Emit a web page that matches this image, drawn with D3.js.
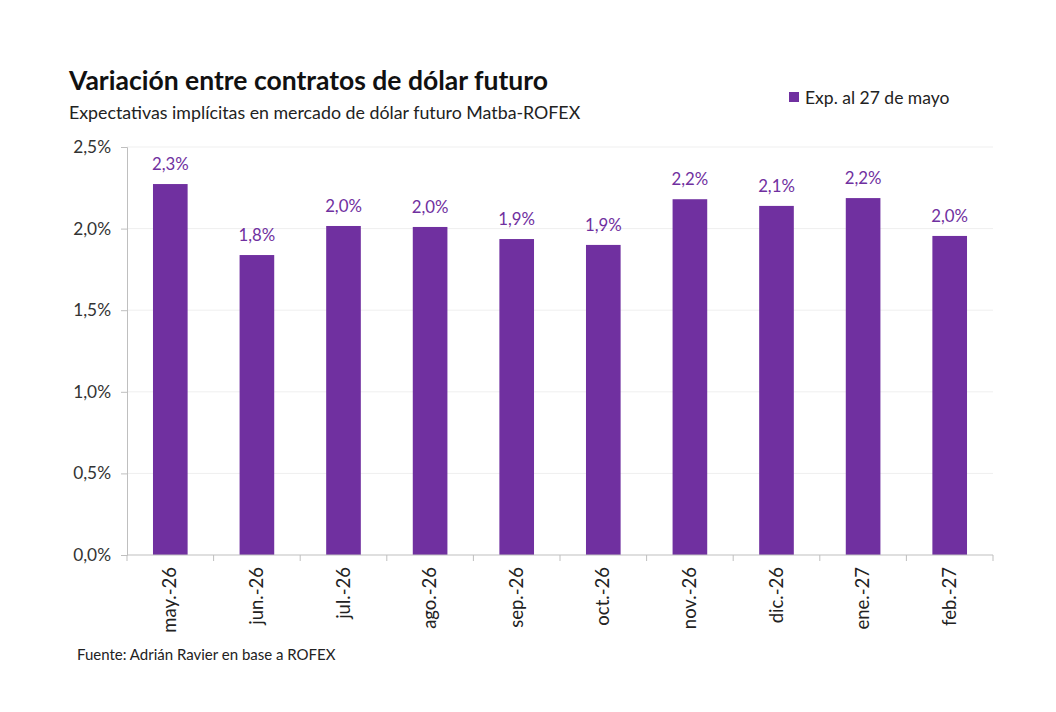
<!DOCTYPE html>
<html><head><meta charset="utf-8">
<script src="https://cdn.jsdelivr.net/npm/d3@7"></script>
<style>body{margin:0;background:#fff}svg{display:block}</style>
</head><body>
<script>
const categories = ["may.-26","jun.-26","jul.-26","ago.-26","sep.-26","oct.-26","nov.-26","dic.-26","ene.-27","feb.-27"];
const values = [2.273, 1.838, 2.016, 2.01, 1.936, 1.90, 2.18, 2.139, 2.187, 1.955];
const yTicks = [0, 0.5, 1.0, 1.5, 2.0, 2.5];
const seriesName = "Exp. al 27 de mayo";

const W = 1056, H = 712;
const m = {left:127, right:63, top:147, bottom:157};
const font = "Lato, 'Open Sans', sans-serif";
const purple = "#7030a0";

const svg = d3.select("body").append("svg").attr("width", W).attr("height", H);

const x = d3.scaleBand().domain(categories).range([m.left, W - m.right]).paddingInner(0.6).paddingOuter(0.3);
const y = d3.scaleLinear().domain([0, 2.5]).range([H - m.bottom, m.top]);
const fmt = v => d3.format(".1f")(v).replace(".", ",") + "%";

// gridlines
svg.append("g").selectAll("line").data(yTicks.filter(d => d > 0)).join("line")
  .attr("x1", m.left).attr("x2", W - m.right)
  .attr("y1", d => y(d)).attr("y2", d => y(d))
  .attr("stroke", "#efefef").attr("stroke-width", 1);

// y axis
const ya = svg.append("g").attr("transform", `translate(${m.left},0)`)
  .call(d3.axisLeft(y).tickValues(yTicks).tickFormat(fmt).tickSize(6).tickPadding(10));
ya.select(".domain").attr("stroke", "#bfbfbf");
ya.selectAll(".tick line").attr("stroke", "#bfbfbf");
ya.selectAll("text").attr("font-family", font).attr("font-size", 17.3).attr("fill", "#333");

// bars
svg.append("g").selectAll("rect").data(values).join("rect")
  .attr("x", (d, i) => x(categories[i])).attr("width", x.bandwidth())
  .attr("y", d => y(d)).attr("height", d => y(0) - y(d))
  .attr("fill", purple);

// value labels
svg.append("g").selectAll("text").data(values).join("text")
  .attr("x", (d, i) => x(categories[i]) + x.bandwidth() / 2)
  .attr("y", d => y(d) - 14)
  .attr("text-anchor", "middle").attr("font-family", font).attr("font-size", 16.8)
  .attr("fill", "#7030a0").text(fmt);

// x axis
const step = x.step();
const bounds = d3.range(categories.length + 1).map(i => m.left + i * step);
const xa = svg.append("g");
xa.append("line").attr("x1", m.left).attr("x2", W - m.right).attr("y1", y(0)).attr("y2", y(0)).attr("stroke", "#bfbfbf");
xa.selectAll(".tk").data(bounds).join("line").attr("class", "tk")
  .attr("x1", d => d).attr("x2", d => d).attr("y1", y(0)).attr("y2", y(0) + 6).attr("stroke", "#bfbfbf");
xa.selectAll("text").data(categories).join("text")
  .attr("transform", d => `translate(${x(d) + x.bandwidth() / 2 + 6},${y(0) + 12}) rotate(-90)`)
  .attr("text-anchor", "end").attr("font-family", font).attr("font-size", 18.5).attr("fill", "#222")
  .text(d => d);

// title
svg.append("text").attr("x", 69).attr("y", 90).attr("font-family", font).attr("font-weight", 700)
  .attr("font-size", 26.5).attr("fill", "#111").text("Variación entre contratos de dólar futuro");
svg.append("text").attr("x", 69).attr("y", 119).attr("font-family", font)
  .attr("font-size", 17.8).attr("fill", "#222").text("Expectativas implícitas en mercado de dólar futuro Matba-ROFEX");

// legend
svg.append("rect").attr("x", 789).attr("y", 92).attr("width", 10).attr("height", 10).attr("fill", purple);
svg.append("text").attr("x", 805).attr("y", 104).attr("font-family", font).attr("font-size", 17.5)
  .attr("fill", "#222").text(seriesName);

// source
svg.append("text").attr("x", 77).attr("y", 660).attr("font-family", font).attr("font-size", 15)
  .attr("fill", "#222").text("Fuente: Adrián Ravier en base a ROFEX");
</script>
</body></html>
